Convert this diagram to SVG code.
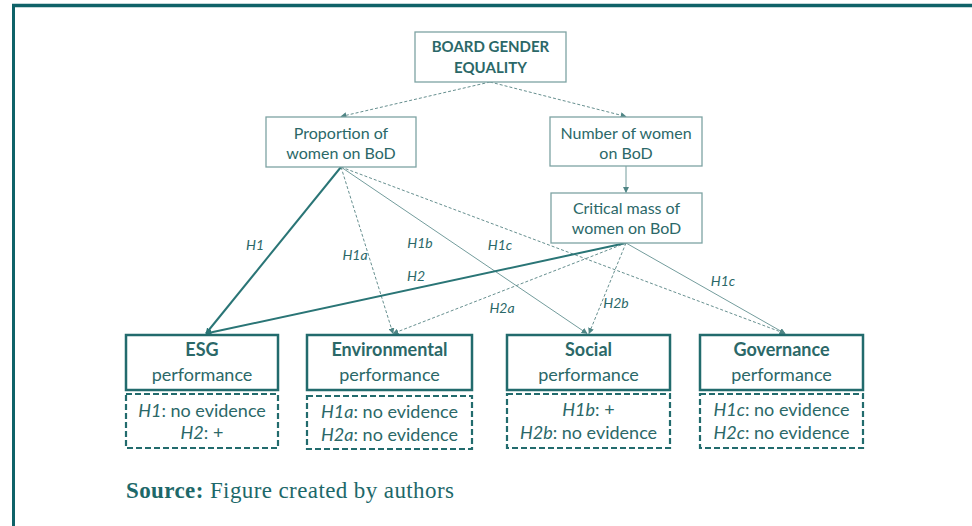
<svg xmlns="http://www.w3.org/2000/svg" width="972" height="526" viewBox="0 0 972 526">
<defs>
<style>
.t{font-family:Lato,"Open Sans",sans-serif;fill:#2b6868;text-anchor:middle}
.top{font-size:16px}
.ttl{font-size:15px;font-weight:bold}
.bold{font-weight:bold}
.big{font-size:18px}
.lbl{font-family:Lato,"Open Sans",sans-serif;font-style:italic;font-size:14px;fill:#2b6868;text-anchor:middle}
.it{font-style:italic}
.tbox{fill:#fff;stroke:#7da3a3;stroke-width:1.3}
.bbox{fill:#fff;stroke:#226b6d;stroke-width:2.5}
.dbox{fill:#fff;stroke:#226b6d;stroke-width:2.2;stroke-dasharray:6 3}
.thick{stroke:#2a7576;stroke-width:2;fill:none}
.thin{stroke:#739c9c;stroke-width:1;fill:none}
.dash{stroke:#668f8f;stroke-width:1;stroke-dasharray:3 2;fill:none}
</style>
<marker id="ah" viewBox="0 0 10 10" refX="9" refY="5" markerWidth="6" markerHeight="6" markerUnits="userSpaceOnUse" orient="auto">
<path d="M0,0 L10,5 L0,10 z" fill="#2a7576"/>
</marker>
<marker id="ahl" viewBox="0 0 10 10" refX="9" refY="5" markerWidth="6" markerHeight="6" markerUnits="userSpaceOnUse" orient="auto">
<path d="M0,0 L10,5 L0,10 z" fill="#4f8585"/>
</marker>
</defs>
<rect x="0" y="0" width="972" height="526" fill="#fff"/>
<g id="frame">
<line x1="12" y1="5.5" x2="972" y2="5.5" stroke="#0f6268" stroke-width="3.5"/>
<line x1="13.5" y1="4" x2="13.5" y2="526" stroke="#0f6268" stroke-width="3"/>
</g>
<g id="connectors">
<line class="dash" x1="490" y1="82" x2="341" y2="116.5" marker-end="url(#ahl)"/>
<line class="dash" x1="490" y1="82" x2="626" y2="116.5" marker-end="url(#ahl)"/>
<line class="thin" x1="626" y1="166" x2="626" y2="192.5" marker-end="url(#ahl)"/>
<line class="thick" x1="341" y1="167" x2="206" y2="333.5" marker-end="url(#ah)"/>
<line class="dash" x1="341" y1="167" x2="393" y2="333.5" marker-end="url(#ahl)"/>
<line class="thin" x1="341" y1="167" x2="587" y2="333.5" marker-end="url(#ahl)"/>
<line class="dash" x1="341" y1="167" x2="785" y2="333.5" marker-end="url(#ahl)"/>
<line class="thick" x1="626" y1="243" x2="206" y2="333.5" marker-end="url(#ah)"/>
<line class="dash" x1="626" y1="243" x2="393" y2="333.5" marker-end="url(#ahl)"/>
<line class="dash" x1="626" y1="243" x2="589" y2="333.5" marker-end="url(#ahl)"/>
<line class="thin" x1="626" y1="243" x2="785" y2="333.5" marker-end="url(#ahl)"/>
<text class="lbl" x="255" y="250">H1</text>
<text class="lbl" x="355" y="260">H1a</text>
<text class="lbl" x="420" y="248">H1b</text>
<text class="lbl" x="500" y="250">H1c</text>
<text class="lbl" x="416" y="281">H2</text>
<text class="lbl" x="502" y="313">H2a</text>
<text class="lbl" x="616" y="308">H2b</text>
<text class="lbl" x="723" y="286">H1c</text>
</g>
<g id="board">
<rect class="tbox" x="415" y="32" width="151" height="50"/>
<text class="t ttl" x="490.5" y="52">BOARD GENDER</text>
<text class="t ttl" x="490.5" y="73">EQUALITY</text>
</g>
<g id="proportion">
<rect class="tbox" x="266" y="117" width="150" height="50"/>
<text class="t top" x="341" y="139">Proportion of</text>
<text class="t top" x="341" y="159">women on BoD</text>
</g>
<g id="number">
<rect class="tbox" x="550" y="117" width="152" height="49"/>
<text class="t top" x="626" y="139">Number of women</text>
<text class="t top" x="626" y="159">on BoD</text>
</g>
<g id="critical">
<rect class="tbox" x="551" y="193" width="151" height="50"/>
<text class="t top" x="626.5" y="214">Critical mass of</text>
<text class="t top" x="626.5" y="234">women on BoD</text>
</g>
<g id="esg">
<rect class="bbox" x="126" y="335" width="152" height="55"/>
<text class="t big bold" x="202" y="356">ESG</text>
<text class="t big" x="202" y="381">performance</text>
<rect class="dbox" x="126" y="394" width="152" height="54"/>
<text class="t big" x="202" y="417"><tspan class="it">H1</tspan>: no evidence</text>
<text class="t big" x="202" y="439"><tspan class="it">H2</tspan>: +</text>
</g>
<g id="environmental">
<rect class="bbox" x="307" y="335" width="165" height="55"/>
<text class="t big bold" x="389.5" y="356">Environmental</text>
<text class="t big" x="389.5" y="381">performance</text>
<rect class="dbox" x="307" y="396" width="165" height="53"/>
<text class="t big" x="389.5" y="418"><tspan class="it">H1a</tspan>: no evidence</text>
<text class="t big" x="389.5" y="441"><tspan class="it">H2a</tspan>: no evidence</text>
</g>
<g id="social">
<rect class="bbox" x="507" y="335" width="163" height="55"/>
<text class="t big bold" x="588.5" y="356">Social</text>
<text class="t big" x="588.5" y="381">performance</text>
<rect class="dbox" x="507" y="394" width="163" height="54"/>
<text class="t big" x="588.5" y="416"><tspan class="it">H1b</tspan>: +</text>
<text class="t big" x="588.5" y="439"><tspan class="it">H2b</tspan>: no evidence</text>
</g>
<g id="governance">
<rect class="bbox" x="700" y="335" width="163" height="55"/>
<text class="t big bold" x="781.5" y="356">Governance</text>
<text class="t big" x="781.5" y="381">performance</text>
<rect class="dbox" x="700" y="394" width="163" height="54"/>
<text class="t big" x="781.5" y="416"><tspan class="it">H1c</tspan>: no evidence</text>
<text class="t big" x="781.5" y="439"><tspan class="it">H2c</tspan>: no evidence</text>
</g>
<g id="source">
<text x="126" y="498" font-family="'Liberation Serif',serif" font-size="23" letter-spacing="0.4" fill="#1d6869"><tspan font-weight="bold">Source:</tspan> Figure created by authors</text>
</g>
</svg>
